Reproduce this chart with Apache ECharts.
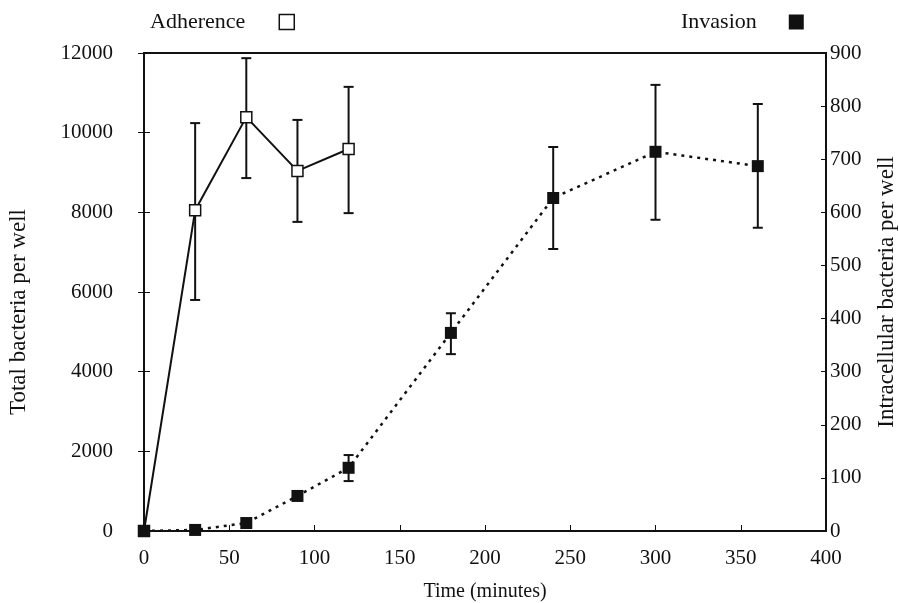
<!DOCTYPE html>
<html>
<head>
<meta charset="utf-8">
<script src="https://cdn.jsdelivr.net/npm/echarts@6/dist/echarts.min.js"></script>
<style>
  html, body { margin: 0; padding: 0; background: #fff; }
  #chart { width: 899px; height: 603px; }
</style>
</head>
<body>
<div id="chart"></div>
<script>
// time points (minutes)
const adhTime = [0, 30, 60, 90, 120];
const invTime = [0, 30, 60, 90, 120, 180, 240, 300, 360];

// adherence: total bacteria per well (left axis)
const adhMean = [0, 8050, 10390, 9040, 9590];
const adhLow = [null, 5800, 8860, 7760, 7980];
const adhHigh = [null, 10240, 11870, 10320, 11150];

// invasion: intracellular bacteria per well (right axis)
const invMean = [0, 2, 15, 66, 119, 373, 627, 714, 687];
const invLow = [null, null, null, null, 94, 333, 531, 586, 571];
const invHigh = [null, null, null, null, 143, 410, 723, 840, 804];

const serif = 'Liberation Serif';
const ink = '#111';

function pairs(xs, ys) {
  return xs.map((x, i) => [x, ys[i]]);
}
function bars(xs, lo, hi) {
  let res = [];
  for (let i = 0; i < xs.length; i++) {
    if (lo[i] != null) res.push([xs[i], lo[i], hi[i]]);
  }
  return res;
}
function plain(v) {
  return String(v);
}

function renderErr(params, api) {
  let x = api.value(0);
  let p1 = api.coord([x, api.value(1)]);
  let p2 = api.coord([x, api.value(2)]);
  let w = 5;
  let st = { stroke: ink, lineWidth: 2 };
  return {
    type: 'group',
    children: [
      { type: 'line', shape: { x1: p1[0], y1: p1[1], x2: p2[0], y2: p2[1] }, style: st },
      { type: 'line', shape: { x1: p1[0] - w, y1: p1[1], x2: p1[0] + w, y2: p1[1] }, style: st },
      { type: 'line', shape: { x1: p2[0] - w, y1: p2[1], x2: p2[0] + w, y2: p2[1] }, style: st }
    ]
  };
}

let chart = echarts.init(document.getElementById('chart'));

let option = {
  backgroundColor: '#fff',
  animation: false,
  textStyle: { fontFamily: serif, color: ink },
  legend: [
    {
      left: 145, top: 6,
      align: 'right',
      itemWidth: 15, itemHeight: 15,
      textStyle: { fontFamily: serif, fontSize: 22, color: ink, padding: [0, 29, 0, 0] },
      data: [{ name: 'Adherence', icon: 'rect', itemStyle: { color: '#fff', borderColor: ink, borderWidth: 1.5 } }]
    },
    {
      left: 676, top: 6,
      align: 'right',
      itemWidth: 15, itemHeight: 15,
      textStyle: { fontFamily: serif, fontSize: 22, color: ink, padding: [0, 27, 0, 0] },
      data: [{ name: 'Invasion', icon: 'rect', itemStyle: { color: ink, borderWidth: 0 } }]
    }
  ],
  grid: {
    left: 144, right: 73, top: 53, bottom: 72,
    outerBoundsMode: 'none',
    show: true, borderColor: ink, borderWidth: 2
  },
  xAxis: {
    type: 'value',
    min: 0, max: 400, interval: 50,
    name: 'Time (minutes)',
    nameLocation: 'middle',
    nameGap: 51,
    nameTextStyle: { fontFamily: serif, fontSize: 20, color: ink },
    axisLine: { lineStyle: { color: ink, width: 2 } },
    axisTick: { inside: true, length: 6, lineStyle: { color: ink } },
    axisLabel: { fontFamily: serif, fontSize: 21, color: ink, margin: 17 },
    splitLine: { show: false }
  },
  yAxis: [
    {
      type: 'value',
      position: 'left',
      min: 0, max: 12000, interval: 2000,
      name: 'Total bacteria per well',
      nameLocation: 'middle',
      nameGap: 114,
      nameTextStyle: { fontFamily: serif, fontSize: 23, color: ink, padding: [0, 40, 0, 0] },
      axisLine: { show: true, lineStyle: { color: ink, width: 2 } },
      axisTick: { show: true, length: 6, lineStyle: { color: ink } },
      axisLabel: { fontFamily: serif, fontSize: 21, color: ink, margin: 31, formatter: plain },
      splitLine: { show: false }
    },
    {
      type: 'value',
      position: 'right',
      min: 0, max: 900, interval: 100,
      name: 'Intracellular bacteria per well',
      nameLocation: 'middle',
      nameGap: 49,
      nameTextStyle: { fontFamily: serif, fontSize: 23, color: ink },
      axisLine: { show: true, lineStyle: { color: ink, width: 2 } },
      axisTick: { show: true, inside: true, length: 5, lineStyle: { color: ink } },
      axisLabel: { fontFamily: serif, fontSize: 21, color: ink, margin: 4, formatter: plain },
      splitLine: { show: false }
    },
    {
      // inner half of the left ticks
      type: 'value',
      position: 'left',
      min: 0, max: 12000, interval: 2000,
      axisLine: { show: false },
      axisTick: { show: true, inside: true, length: 6, lineStyle: { color: ink } },
      axisLabel: { show: false },
      splitLine: { show: false }
    }
  ],
  series: [
    {
      type: 'custom',
      name: 'adhErr',
      yAxisIndex: 0,
      renderItem: renderErr,
      data: bars(adhTime, adhLow, adhHigh),
      silent: true,
      z: 1
    },
    {
      type: 'custom',
      name: 'invErr',
      yAxisIndex: 1,
      renderItem: renderErr,
      data: bars(invTime, invLow, invHigh),
      silent: true,
      z: 1
    },
    {
      name: 'Adherence',
      type: 'line',
      yAxisIndex: 0,
      data: pairs(adhTime, adhMean),
      symbol: 'rect',
      symbolSize: 11,
      showAllSymbol: true,
      lineStyle: { color: ink, width: 2 },
      itemStyle: { color: '#fff', borderColor: ink, borderWidth: 1.5 },
      z: 3
    },
    {
      name: 'Invasion',
      type: 'line',
      yAxisIndex: 1,
      data: pairs(invTime, invMean),
      symbol: 'rect',
      symbolSize: 12,
      showAllSymbol: true,
      lineStyle: { color: ink, width: 2.5, type: [3, 5] },
      itemStyle: { color: ink, borderWidth: 0 },
      z: 4
    }
  ]
};

chart.setOption(option);
</script>
</body>
</html>
